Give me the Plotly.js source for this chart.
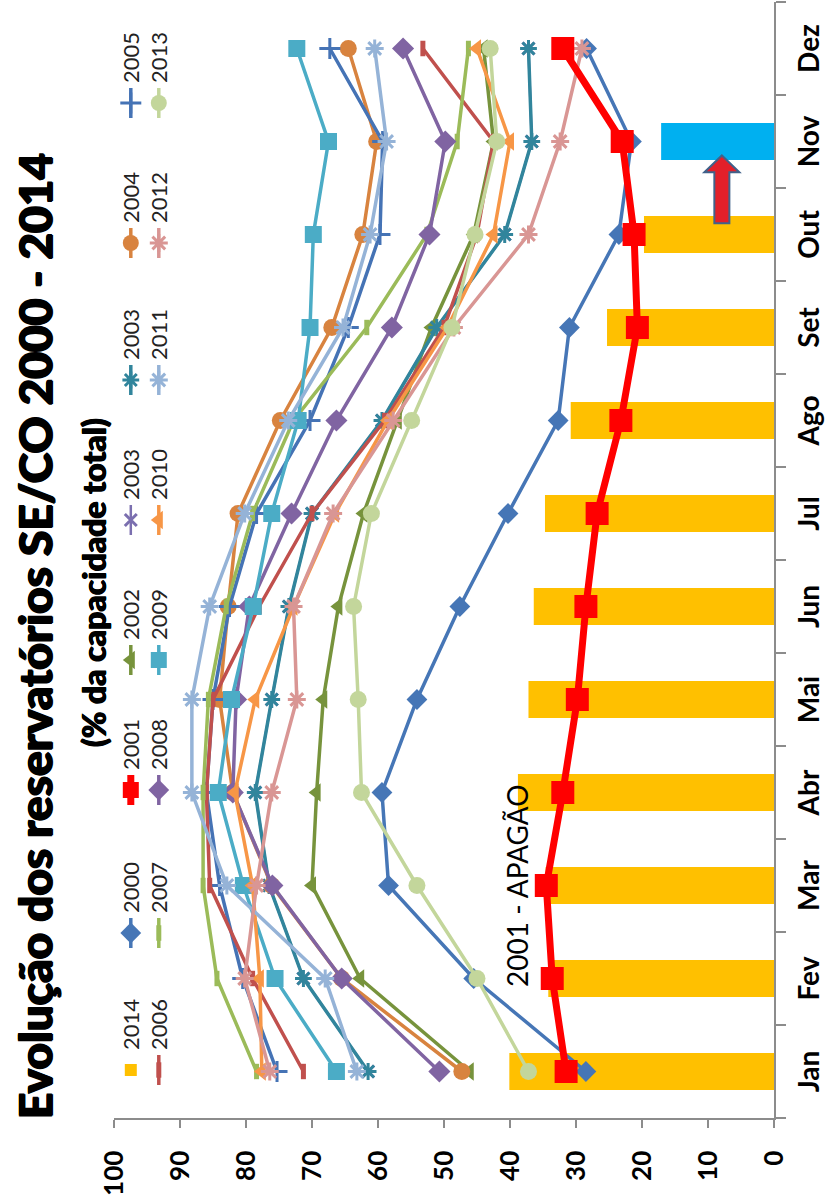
<!DOCTYPE html>
<html>
<head>
<meta charset="utf-8">
<script src="https://cdn.plot.ly/plotly-3.0.1.min.js"></script>
<style>
  html, body { margin: 0; padding: 0; width: 834px; height: 1202px; overflow: hidden; background: #fff; }
  /* the chart is laid out landscape and turned a quarter turn counter-clockwise */
  #chart { position: absolute; left: 0; top: 0; width: 1202px; height: 834px;
           transform-origin: 0 0; transform: translate(0, 1202px) rotate(-90deg); }
</style>
</head>
<body>
<div id="chart"></div>
<script>
// Stored energy of the SE/CO reservoirs, % of total capacity, by month
const months = ['Jan', 'Fev', 'Mar', 'Abr', 'Mai', 'Jun', 'Jul', 'Ago', 'Set', 'Out', 'Nov', 'Dez'];

const lvl2014 = [40.1, 34.2, 34.6, 38.8, 37.2, 36.4, 34.7, 30.8, 25.3, 19.7, 17.1, null];
const lvl2000 = [28.5, 45.5, 58.4, 59.4, 54.1, 47.6, 40.3, 32.7, 31.0, 23.5, 21.6, 28.4];
const lvl2001 = [31.5, 33.6, 34.5, 32.0, 29.8, 28.5, 26.8, 23.2, 20.7, 21.2, 23.0, 32.0];
const lvl2002 = [46.1, 62.7, 70.0, 69.3, 68.3, 66.0, 62.2, 57.0, 51.9, 45.5, 42.5, 44.0];
const lvl2003 = [61.5, 71.3, 76.5, 78.6, 76.1, 73.5, 70.0, 59.4, 51.1, 40.8, 36.7, 37.2];
const lvl2004 = [47.3, 65.5, 76.1, 82.0, 84.0, 82.7, 81.2, 74.8, 67.0, 62.3, 60.2, 64.5];
const lvl2005 = [75.3, 80.5, 84.0, 86.0, 85.0, 82.5, 78.4, 70.3, 64.5, 59.7, 59.3, 67.3];
const lvl2006 = [71.3, 79.0, 85.5, 86.0, 85.0, 78.0, 70.0, 59.0, 50.0, 45.0, 42.5, 53.2];
const lvl2007 = [78.4, 84.4, 86.5, 86.5, 85.7, 83.0, 79.0, 72.8, 61.7, 52.6, 48.0, 46.3];
const lvl2008 = [50.7, 65.5, 76.0, 82.0, 81.5, 79.5, 73.1, 66.3, 57.9, 52.2, 49.8, 56.2];
const lvl2009 = [66.3, 75.6, 80.4, 84.2, 82.2, 78.9, 76.1, 72.1, 70.3, 69.8, 67.5, 72.3];
const lvl2010 = [77.6, 77.9, 79.0, 81.7, 78.6, 72.8, 66.5, 58.5, 49.5, 42.5, 40.0, 45.0];
const lvl2011 = [63.2, 68.0, 82.9, 88.2, 88.2, 85.5, 80.2, 73.6, 65.3, 61.2, 58.7, 60.5];
const lvl2012 = [76.4, 80.2, 78.4, 76.1, 72.3, 72.8, 66.8, 57.7, 48.5, 37.2, 32.4, 29.1];
const lvl2013 = [37.2, 45.0, 54.1, 62.5, 63.0, 63.7, 61.0, 54.9, 48.8, 45.3, 42.0, 43.0];

const valueTicks = [0, 10, 20, 30, 40, 50, 60, 70, 80, 90, 100];

const FONT = 'Lato, "Open Sans", sans-serif';
const AXIS_GREY = '#8c8c8c';
// extra stroke weight for the heavy headline lettering
const HEAVY = '0.9px 0 0 #000, -0.9px 0 0 #000, 0 0.5px 0 #000';

// line series in drawing order (2001 last, on top); slot = legend position (row*8 + col)
const lineSeries = [
  { name: '2003', y: lvl2003, color: '#7b6faf', symbol: 'x-thin',      size: 12, open: true, width: 2.5, slot: 4 },
  { name: '2000', y: lvl2000, color: '#4676b6', symbol: 'diamond',     size: 16, width: 3.5, slot: 1 },
  { name: '2002', y: lvl2002, color: '#77933c', symbol: 'triangle-up', size: 16, width: 3.5, slot: 3 },
  { name: '2003', y: lvl2003, color: '#31859c', symbol: 'asterisk',    size: 14, open: true, width: 3.5, slot: 5 },
  { name: '2004', y: lvl2004, color: '#d8833f', symbol: 'circle',      size: 17, width: 3.5, slot: 6 },
  { name: '2005', y: lvl2005, color: '#4573b5', symbol: 'cross-thin',  size: 15, open: true, width: 3.5, slot: 7 },
  { name: '2006', y: lvl2006, color: '#c0504d', symbol: 'line-ew',     size: 11, open: true, width: 3.5, slot: 8 },
  { name: '2007', y: lvl2007, color: '#9bbb59', symbol: 'line-ew',     size: 11, open: true, width: 3.5, slot: 9 },
  { name: '2008', y: lvl2008, color: '#8064a2', symbol: 'diamond',     size: 17, width: 3.5, slot: 10 },
  { name: '2009', y: lvl2009, color: '#4bacc6', symbol: 'square',      size: 17, width: 3.5, slot: 11 },
  { name: '2010', y: lvl2010, color: '#f79646', symbol: 'triangle-up', size: 16, width: 3.5, slot: 12 },
  { name: '2011', y: lvl2011, color: '#95b3d7', symbol: 'asterisk',    size: 15, open: true, width: 3.5, slot: 13 },
  { name: '2012', y: lvl2012, color: '#d99694', symbol: 'asterisk',    size: 15, open: true, width: 3.5, slot: 14 },
  { name: '2013', y: lvl2013, color: '#c3d69b', symbol: 'circle',      size: 17, width: 3.5, slot: 15 },
  { name: '2001', y: lvl2001, color: '#ff0000', symbol: 'square',      size: 23, width: 7,   slot: 2 }
];

// legend: two rows of eight entries; text start of each column in px from the left edge
const legendColumnText = [152, 289, 432, 562, 702, 842, 979, 1119];
const legendRowCenter = [131, 159];

const W = 1202, H = 834;
const M = { l: 84, r: 2, t: 114, b: 60 };
const plotW = W - M.l - M.r, plotH = H - M.t - M.b;

const legendKey = s => (s === 0 ? 'legend' : 'legend' + (s + 1));

const traces = [];
traces.push({
  type: 'bar', name: '2014', x: months, y: lvl2014, width: 0.4,
  marker: { color: months.map(m => (m === 'Nov' ? '#00b0f0' : '#ffc000')), line: { width: 0 } },
  legend: legendKey(0)
});
lineSeries.forEach(s => {
  const marker = s.open
    ? { symbol: s.symbol, size: s.size, color: s.color, line: { color: s.color, width: s.symbol === 'line-ew' ? 5 : 3 } }
    : { symbol: s.symbol, size: s.size, color: s.color, line: { width: 0 } };
  traces.push({
    type: 'scatter', mode: 'lines+markers', name: s.name, x: months, y: s.y,
    line: { color: s.color, width: s.width }, marker: marker, legend: legendKey(s.slot)
  });
});

const layout = {
  width: W, height: H,
  margin: M,
  paper_bgcolor: '#fff', plot_bgcolor: '#fff',
  font: { family: FONT, color: '#000' },
  showlegend: true,
  title: {
    text: 'Evolução dos reservatórios SE/CO 2000 - 2014',
    font: { family: FONT, size: 46, weight: 900, color: '#000', shadow: HEAVY },
    xref: 'container', x: 566 / W, xanchor: 'center',
    yref: 'container', y: 1 - 36 / H, yanchor: 'middle'
  },
  xaxis: {
    type: 'category', categoryorder: 'array', categoryarray: months,
    range: [-0.5, 11.5], showgrid: false, zeroline: false,
    showline: true, linecolor: AXIS_GREY, linewidth: 1.5,
    ticks: 'outside', tickson: 'boundaries', ticklen: 10, tickcolor: AXIS_GREY, tickwidth: 1.5,
    tickfont: { family: FONT, size: 28, weight: 700, color: '#000' },
    ticklabelstandoff: 10, fixedrange: true
  },
  yaxis: {
    range: [0, 100], tickvals: valueTicks, showgrid: false, zeroline: false,
    showline: true, linecolor: AXIS_GREY, linewidth: 1.5,
    ticks: 'outside', ticklen: 8, tickcolor: AXIS_GREY, tickwidth: 1.5,
    tickfont: { family: FONT, size: 26, weight: 700, color: '#000' },
    ticklabelstandoff: 18, fixedrange: true
  },
  annotations: [
    {
      text: '(% da capacidade total)', showarrow: false,
      xref: 'paper', x: (619 - M.l) / plotW, xanchor: 'center',
      yref: 'paper', y: (H - M.b - 93) / plotH, yanchor: 'middle',
      font: { family: FONT, size: 32, weight: 900, color: '#000', shadow: '0.6px 0 0 #000, -0.6px 0 0 #000' }
    },
    {
      text: '2001 - APAGÃO', showarrow: false,
      xref: 'x', x: 'Mar', yref: 'y', y: 39, xanchor: 'center', yanchor: 'middle',
      font: { family: FONT, size: 28, color: '#000' }
    }
  ],
  shapes: []
};

// one legend per entry so that each sits in its own column
for (let s = 0; s < 16; s++) {
  const row = Math.floor(s / 8), col = s % 8;
  layout[legendKey(s)] = {
    xref: 'paper', yref: 'paper',
    x: (legendColumnText[col] - 40 - M.l) / plotW, xanchor: 'left',
    y: (H - M.b - legendRowCenter[row]) / plotH, yanchor: 'middle',
    bgcolor: 'rgba(0,0,0,0)', borderwidth: 0,
    font: { family: FONT, size: 22, color: '#222' },
    itemclick: false, itemdoubleclick: false
  };
}

// block arrow from the October bar towards the November bar
function blockArrow(x0, x1, headBase, yc, shaftHalf, headHalf) {
  return `M ${x0} ${yc - shaftHalf} L ${headBase} ${yc - shaftHalf} L ${headBase} ${yc - headHalf} ` +
         `L ${x1} ${yc} L ${headBase} ${yc + headHalf} L ${headBase} ${yc + shaftHalf} L ${x0} ${yc + shaftHalf} Z`;
}
layout.shapes.push({
  type: 'path', xref: 'x', yref: 'y', layer: 'above',
  path: blockArrow(9.12, 9.85, 9.67, 7.9, 1.14, 2.65),
  fillcolor: '#e3202a', line: { color: '#41628a', width: 2 }
});

Plotly.newPlot('chart', traces, layout, { staticPlot: true, displayModeBar: false });
</script>
</body>
</html>
